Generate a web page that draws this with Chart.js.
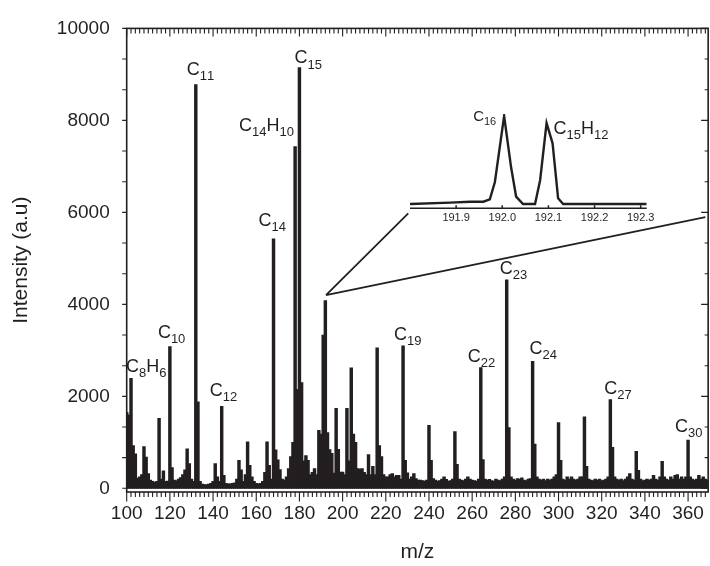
<!DOCTYPE html>
<html lang="en">
<head>
<meta charset="UTF-8">
<title>Mass spectrum</title>
<style>
  html, body { margin: 0; padding: 0; overflow: hidden; background: #fff; }
  .wrap { position: relative; width: 714px; height: 566px; }
  #spectrum { position: absolute; left: 0; top: 0; }
  #inset { position: absolute; left: 400px; top: 90px; }
</style>
</head>
<body>
<div class="wrap">
  <canvas id="spectrum" width="714" height="566"></canvas>
  <canvas id="inset" width="270" height="140"></canvas>
</div>
<script src="https://cdn.jsdelivr.net/npm/chart.js@4.4.0/dist/chart.umd.min.js"></script>
<script>
// stick spectrum, one value per nominal mass starting at m/z 100
const massStart = 100;
const intensity = [
  1650, 1600, 2390, 930, 750, 220, 250, 300, 906, 680,      // 100
  320, 180, 150, 130, 150, 1520, 200, 380, 150, 160,        // 110
  3080, 450, 180, 170, 200, 235, 300, 400, 860, 540,        // 120
  200, 150, 8780, 1880, 150, 90, 80, 80, 90, 110,           // 130
  150, 540, 250, 150, 1784, 285, 110, 100, 100, 110,        // 140
  120, 200, 606, 400, 150, 300, 1010, 500, 250, 150,        // 150
  110, 100, 110, 150, 350, 1010, 500, 200, 5424, 835,       // 160
  620, 410, 200, 180, 250, 430, 690, 1000, 7430, 2150,      // 170
  9150, 2300, 600, 713, 606, 300, 350, 428, 300, 1263,      // 180
  1177, 3330, 4080, 1210, 840, 760, 330, 1740, 850, 355,    // 190
  355, 300, 1740, 600, 2620, 1177, 1000, 430, 420, 430,     // 200
  350, 300, 734, 300, 477, 300, 3054, 927, 690, 300,        // 210
  250, 250, 300, 320, 250, 285, 285, 200, 3100, 606,        // 220
  335, 200, 250, 320, 214, 180, 180, 170, 160, 180,         // 230
  1370, 606, 214, 180, 160, 170, 200, 248, 193, 160,        // 240
  170, 200, 1234, 520, 200, 180, 170, 200, 248, 200,        // 250
  180, 170, 160, 200, 2626, 627, 200, 180, 193, 170,        // 260
  160, 200, 180, 170, 200, 250, 4531, 1320, 250, 200,       // 270
  180, 214, 200, 228, 180, 170, 200, 214, 2762, 963,        // 280
  250, 200, 180, 200, 170, 200, 180, 200, 250, 300,         // 290
  1430, 606, 200, 180, 250, 200, 250, 200, 180, 200,        // 300
  250, 250, 1556, 477, 200, 180, 170, 200, 180, 200,        // 310
  170, 180, 200, 250, 1927, 891, 250, 200, 180, 200,        // 320
  170, 200, 250, 320, 200, 180, 806, 392, 200, 170,         // 330
  180, 200, 180, 200, 285, 200, 180, 250, 585, 250,         // 340
  200, 180, 250, 200, 280, 300, 200, 250, 200, 250,         // 350
  1050, 248, 200, 180, 200, 285, 200, 248, 200, 180         // 360
];
const xTicks = [100, 120, 140, 160, 180, 200, 220, 240, 260, 280, 300, 320, 340, 360];
const yTicks = [0, 2000, 4000, 6000, 8000, 10000];

const labelMass = [102, 120, 132, 144, 168, 178, 180, 228, 264, 276, 288, 324, 360];
const labelText = ['C8H6', 'C10', 'C11', 'C12', 'C14', 'C14H10', 'C15', 'C19', 'C22', 'C23', 'C24', 'C27', 'C30'];

// high resolution view of the m/z 192 doublet
const insetMass = [191.800, 191.887, 191.930, 191.959, 191.973, 191.984, 192.004, 192.019, 192.030, 192.045,
                   192.071, 192.082, 192.096, 192.109, 192.121, 192.132, 192.313];
const insetIntensity = [0, 1.5, 2.6, 2.6, 5.3, 25, 100, 42, 8.3, 0,
                        0, 27, 92, 69, 6.4, 0, 0];
const insetTicks = [191.9, 192.0, 192.1, 192.2, 192.3];
const insetLabelMass = [192.004, 192.096];
const insetLabelText = ['C16', 'C15H12'];

// layout bits (pixel offsets of label text from the peak top)
const labelOffset = [[-5, -6], [-12, -9], [-9, -10], [-12, -10], [-15, -13], [-56, -16], [-5, -4],
                     [-9, -6], [-13, -6], [-7, -6], [-3, -7], [-6, -6], [-13, -8]];
const insetLabelOffset = [[-31, 5], [7, 11]];
const insetLabelSize = [15, 18];
// zoom connector, in m/z / intensity units of the main plot
const zoomFrom = [192.3, 4200];
const zoomTo = [[230.4, 5980], [368.0, 5895]];

const ink = '#231f20';
const family = '"Liberation Sans", Arial, Helvetica, sans-serif';
Chart.defaults.font.family = family;
Chart.defaults.color = ink;

// digits in a formula are written as subscripts
function drawFormula(ctx, text, x, y, size) {
  let cx = x;
  ctx.textAlign = 'left';
  ctx.textBaseline = 'alphabetic';
  for (const ch of text) {
    const sub = ch >= '0' && ch <= '9';
    ctx.font = (sub ? Math.round(size * 0.72) : size) + 'px ' + family;
    ctx.fillText(ch, cx, sub ? y + size * 0.28 : y);
    cx += ctx.measureText(ch).width;
  }
}

const frame = {
  id: 'frame',
  afterDatasetsDraw(chart) {
    const { ctx, chartArea: a, scales: { x, y } } = chart;
    ctx.save();
    ctx.strokeStyle = ink;
    ctx.lineWidth = 1.1;
    ctx.beginPath();
    for (let m = 100; m <= 368; m += 2) {
      const px = x.getPixelForValue(m);
      const major = m % 20 === 0;
      ctx.moveTo(px, a.bottom); ctx.lineTo(px, a.bottom + (major ? 9.5 : 5));
      ctx.moveTo(px, a.top); ctx.lineTo(px, a.top + (major ? 8 : 5));
    }
    for (let i = 0; i <= 15; i++) {
      const py = y.getPixelForValue(i * 2000 / 3);
      ctx.moveTo(a.left - 4.5, py); ctx.lineTo(a.left, py);
      ctx.moveTo(a.right, py); ctx.lineTo(a.right - (i % 3 === 0 ? 7 : 3.5), py);
    }
    ctx.stroke();
    ctx.lineWidth = 1.6;
    ctx.strokeRect(a.left, a.top, a.right - a.left, a.bottom - a.top);

    // connector lines to the inset
    const fx = x.getPixelForValue(zoomFrom[0]), fy = y.getPixelForValue(zoomFrom[1]);
    ctx.lineWidth = 1.8;
    ctx.beginPath();
    for (const [m, v] of zoomTo) {
      ctx.moveTo(fx, fy);
      ctx.lineTo(x.getPixelForValue(m), y.getPixelForValue(v));
    }
    ctx.stroke();

    // peak assignments
    ctx.fillStyle = ink;
    labelMass.forEach((m, i) => {
      const px = x.getPixelForValue(m);
      const py = y.getPixelForValue(intensity[m - massStart]);
      drawFormula(ctx, labelText[i], px + labelOffset[i][0], py + labelOffset[i][1], 18);
    });
    ctx.restore();
  }
};

new Chart(document.getElementById('spectrum'), {
  type: 'bar',
  data: {
    datasets: [{
      data: intensity.map((v, i) => ({ x: massStart + i, y: v })),
      backgroundColor: ink,
      borderWidth: 0,
      barThickness: 2.8
    }]
  },
  options: {
    responsive: false,
    animation: false,
    events: [],
    layout: { padding: { left: 0, right: 2, top: 21.3, bottom: 0 } },
    plugins: { legend: { display: false }, tooltip: { enabled: false } },
    scales: {
      x: {
        type: 'linear', min: 100, max: 369.3, offset: false,
        afterBuildTicks: s => { s.ticks = xTicks.map(v => ({ value: v })); },
        afterFit: s => { s.height = 74; },
        grid: { display: false, drawTicks: false },
        border: { display: false },
        ticks: { padding: 10, font: { size: 19 }, maxRotation: 0, autoSkip: false, callback: v => String(v) },
        title: { display: true, text: 'm/z', font: { size: 21 }, padding: { top: 0, bottom: 1 } }
      },
      y: {
        min: -80, max: 10000,
        afterBuildTicks: s => { s.ticks = yTicks.map(v => ({ value: v })); },
        afterFit: s => { s.width = 126.7; },
        grid: { display: false, drawTicks: false },
        border: { display: false },
        ticks: { padding: 17, font: { size: 19 }, callback: v => String(v) },
        title: { display: true, text: 'Intensity (a.u)', font: { size: 21 }, padding: { top: 9, bottom: 0 } }
      }
    }
  },
  plugins: [frame]
});

const insetDecor = {
  id: 'insetDecor',
  afterDatasetsDraw(chart) {
    const { ctx, chartArea: a, scales: { x, y } } = chart;
    ctx.save();
    ctx.strokeStyle = ink;
    ctx.lineWidth = 1.5;
    ctx.beginPath();
    ctx.moveTo(a.left, a.bottom); ctx.lineTo(a.right, a.bottom);
    for (const t of insetTicks) {
      const px = x.getPixelForValue(t);
      ctx.moveTo(px, a.bottom); ctx.lineTo(px, a.bottom - 3);
    }
    ctx.stroke();
    ctx.fillStyle = ink;
    insetLabelMass.forEach((m, i) => {
      let k = 0;
      insetMass.forEach((v, j) => { if (Math.abs(v - m) < Math.abs(insetMass[k] - m)) k = j; });
      const px = x.getPixelForValue(m);
      const py = y.getPixelForValue(insetIntensity[k]);
      drawFormula(ctx, insetLabelText[i], px + insetLabelOffset[i][0], py + insetLabelOffset[i][1], insetLabelSize[i]);
    });
    ctx.restore();
  }
};

new Chart(document.getElementById('inset'), {
  type: 'line',
  data: {
    datasets: [{
      data: insetMass.map((m, i) => ({ x: m, y: insetIntensity[i] })),
      borderColor: ink,
      borderWidth: 2.4,
      pointRadius: 0,
      tension: 0,
      fill: false
    }]
  },
  options: {
    responsive: false,
    animation: false,
    events: [],
    layout: { padding: { left: 10, right: 23.3, top: 24, bottom: 0 } },
    plugins: { legend: { display: false }, tooltip: { enabled: false } },
    scales: {
      x: {
        type: 'linear', min: 191.8, max: 192.313,
        afterBuildTicks: s => { s.ticks = insetTicks.map(v => ({ value: v })); },
        afterFit: s => { s.height = 21.7; },
        grid: { display: false, drawTicks: false },
        border: { display: false },
        ticks: { padding: 3, font: { size: 11 }, maxRotation: 0, autoSkip: false, callback: v => v.toFixed(1) }
      },
      y: { display: false, min: -4.9, max: 102.3 }
    }
  },
  plugins: [insetDecor]
});
</script>
</body>
</html>
